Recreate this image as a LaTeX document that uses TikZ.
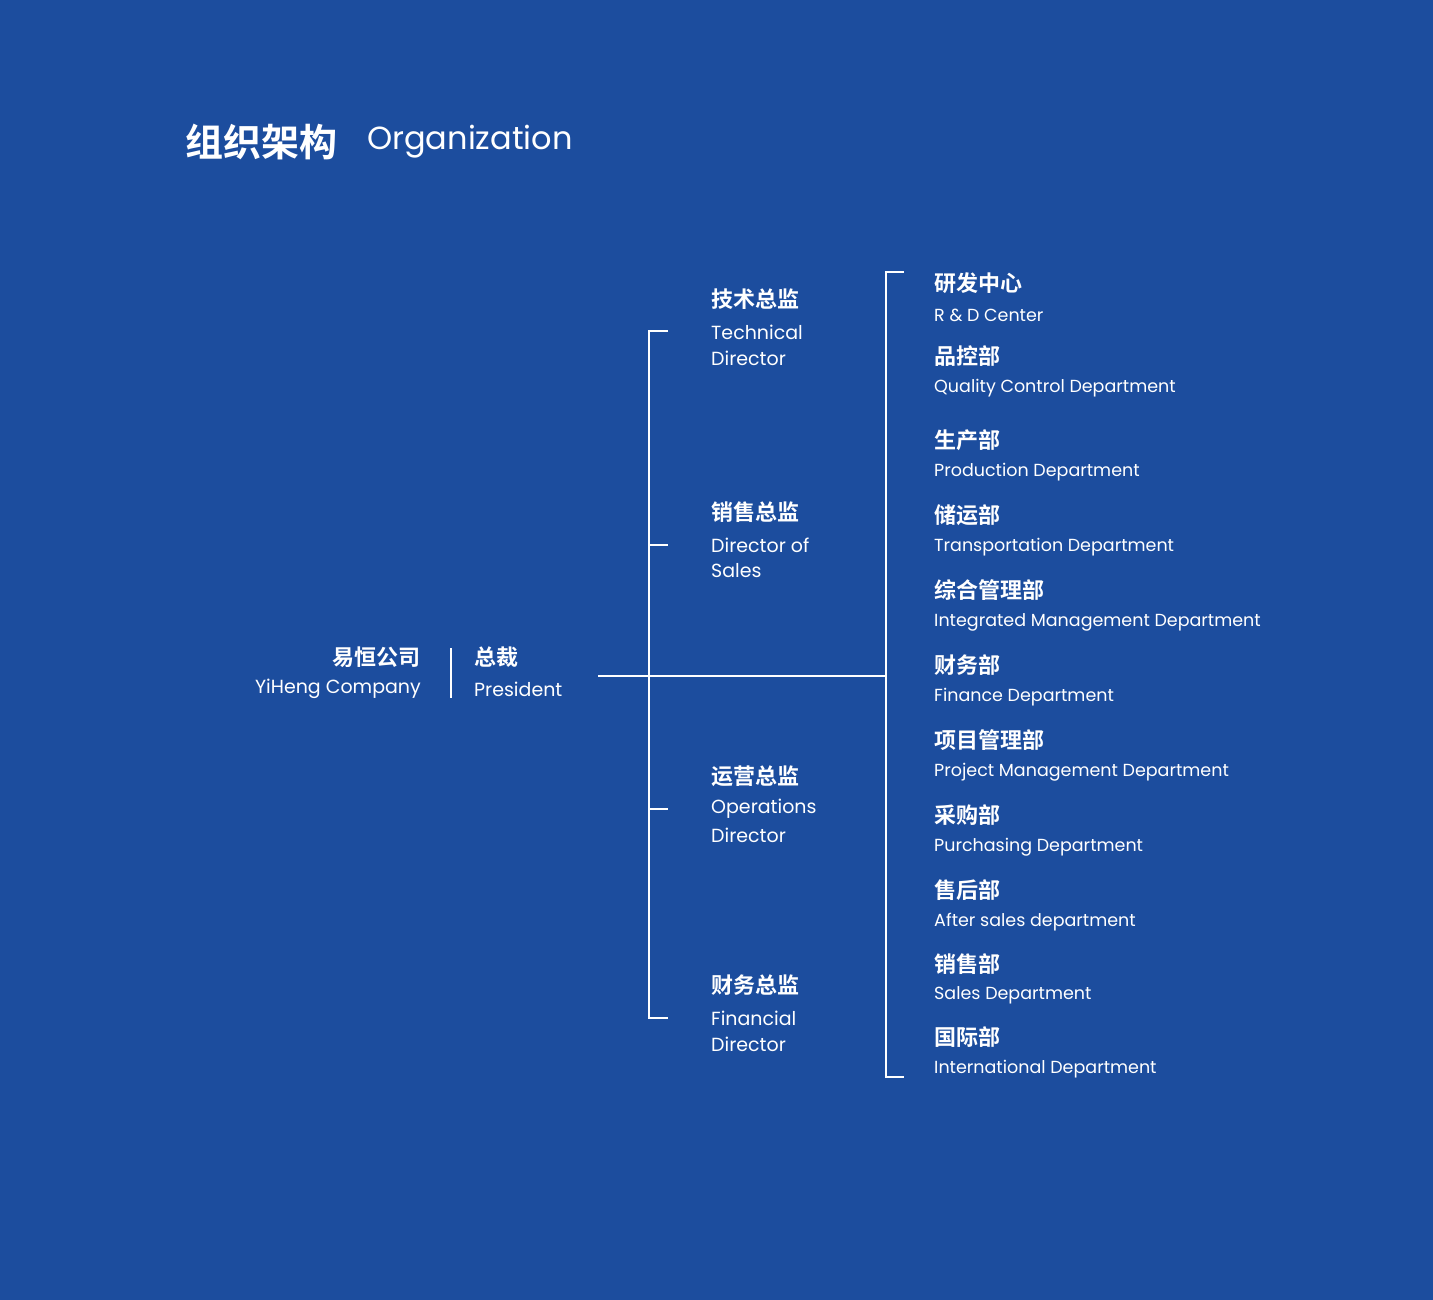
\documentclass[tikz,border=0pt]{standalone}
\usepackage{fontspec}
\setmainfont{Poppins}
\newfontfamily\cjk{Noto Sans CJK SC}[BoldFont=* Bold]
\definecolor{bg}{RGB}{28,77,158}
\begin{document}
\begin{tikzpicture}[x=1pt,y=-1pt,
  cn/.style={text=white,font=\cjk\bfseries\fontsize{22}{24}\selectfont,inner sep=0pt},
  en/.style={text=white,font=\fontsize{17.5}{20}\selectfont,inner sep=0pt},
  ln/.style={draw=white,line width=1.3pt}]
\fill[bg] (0,0) rectangle (1433,1300);
\useasboundingbox (0,0) rectangle (1433,1300);
\node[cn,anchor=west,font=\cjk\bfseries\fontsize{38}{40}\selectfont] (t1) at (185,142) {组织架构};
\node[en,anchor=west,font=\fontsize{32}{34}\selectfont] (t2) at (367,142) {Organization};
\node[cn,anchor=east] (c1) at (421,657) {易恒公司};
\node[en,anchor=east,font=\fontsize{19}{22}\selectfont] (c2) at (421,689) {YiHeng Company};
\coordinate (b1) at (451,648); \coordinate (b2) at (451,698);
\draw[ln] (b1) -- (b2);
\node[cn,anchor=west] (p1) at (474,657) {总裁};
\node[en,anchor=west,font=\fontsize{19}{22}\selectfont] (p2) at (474,689) {President};
\coordinate (h1) at (598,676); \coordinate (h2) at (886,676);
\draw[ln] (h1) -- (h2);
% left bracket
\coordinate (L1) at (649,331); \coordinate (L4) at (649,1018);
\draw[ln] (668,331) -- (L1) -- (L4) -- (668,1018);
\draw[ln] (649,545) -- (668,545);
\draw[ln] (649,809) -- (668,809);
\foreach \a/\b/\c/\y in {技术总监/Technical/Director/299,销售总监/Director of/Sales/512,运营总监/Operations/Director/776,财务总监/Financial/Director/985}{
  \node[cn,anchor=west] at (711,\y) {\a};
  \node[en,anchor=west,font=\fontsize{19}{22}\selectfont] at (711,\y+33) {\b};
  \node[en,anchor=west,font=\fontsize{19}{22}\selectfont] at (711,\y+59) {\c};
}
% right bracket
\coordinate (R1) at (886,272); \coordinate (R2) at (886,1077);
\draw[ln] (904,272) -- (R1) -- (R2) -- (904,1077);
\foreach \a/\b/\y/\z in {研发中心/R \& D Center/283/315,品控部/Quality Control Department/356/388,生产部/Production Department/440/472,储运部/Transportation Department/515/547,综合管理部/Integrated Management Department/590/622,财务部/Finance Department/665/697,项目管理部/Project Management Department/740/772,采购部/Purchasing Department/815/847,售后部/After sales department/890/922,销售部/Sales Department/964/995,国际部/International Department/1037/1069}{
  \node[cn,anchor=west] at (934,\y) {\a};
  \node[en,anchor=west] at (934,\z) {\b};
}
\end{tikzpicture}
\end{document}
